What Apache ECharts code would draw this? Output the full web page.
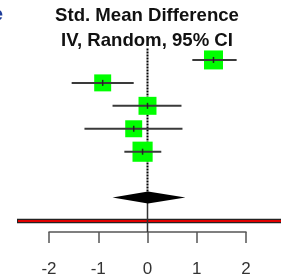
<!DOCTYPE html>
<html>
<head>
<meta charset="utf-8">
<script src="https://cdn.jsdelivr.net/npm/echarts@6.0.0/dist/echarts.min.js"></script>
<style>
html, body { margin: 0; padding: 0; background: #fff; }
#main { width: 281px; height: 280px; }
</style>
</head>
<body>
<div id="main"></div>
<script>
// study rows, top to bottom
var studyRows = [1, 2, 3, 4, 5];
var smd = [1.34, -0.91, 0.00, -0.28, -0.10];
var ciLow = [0.91, -1.54, -0.71, -1.28, -0.47];
var ciHigh = [1.81, -0.28, 0.69, 0.71, 0.28];
var weights = [21.6, 17.3, 19.4, 17.3, 24.4];
// pooled: estimate, low, high
var pooled = [0.01, -0.71, 0.77];
var pooledRow = 7;
var tickLabels = [-2, -1, 0, 1, 2];

var myChart = echarts.init(document.getElementById('main'));

var studyData = studyRows.map(function (r, i) {
    return [r, smd[i], ciLow[i], ciHigh[i], weights[i]];
});

var option = {
    animation: false,
    title: {
        text: 'Std. Mean Difference\nIV, Random, 95% CI',
        left: 147,
        top: 3,
        padding: 0,
        textAlign: 'center',
        textStyle: {
            fontFamily: 'Liberation Sans',
            fontWeight: 'bold',
            fontSize: 18.6,
            lineHeight: 25,
            color: '#111'
        }
    },
    graphic: [
        {
            type: 'text', x: -7, y: 15,
            style: {
                text: 'e', font: 'bold 18px "Liberation Sans"', fill: '#1f3d99',
                verticalAlign: 'middle'
            }
        },
        {
            type: 'line',
            shape: { x1: 17, y1: 221, x2: 281, y2: 221 },
            style: { stroke: '#222', lineWidth: 4.5 }
        },
        {
            type: 'line',
            shape: { x1: 18, y1: 221, x2: 281, y2: 221 },
            style: { stroke: '#e00000', lineWidth: 2 }
        }
    ],
    grid: { left: 49, right: 35, top: 37, height: 195 },
    xAxis: {
        type: 'value',
        position: 'bottom',
        min: tickLabels[0],
        max: tickLabels[tickLabels.length - 1],
        interval: 1,
        splitLine: { show: false },
        axisLine: { onZero: false, lineStyle: { color: '#555', width: 1.5 } },
        axisTick: { length: 11, lineStyle: { color: '#555', width: 1.5 } },
        axisLabel: {
            margin: 29,
            fontSize: 17,
            fontFamily: 'Liberation Sans',
            color: '#333'
        }
    },
    yAxis: {
        type: 'value',
        inverse: true,
        min: 0,
        max: 8.5,
        show: false
    },
    series: [
        {
            type: 'line',
            data: [[0, 0.5], [0, pooledRow]],
            symbol: 'none',
            lineStyle: { color: '#000', width: 2, type: [2, 1] },
            z: 1
        },
        {
            type: 'line',
            data: [[0, pooledRow], [0, 8.5]],
            symbol: 'none',
            lineStyle: { color: '#333', width: 1.5 },
            z: 1
        },
        {
            type: 'custom',
            data: studyData,
            encode: { x: [1, 2, 3], y: 0 },
            z: 3,
            renderItem: function (params, api) {
                var row = api.value(0);
                var c = api.coord([api.value(1), row]);
                var l = api.coord([api.value(2), row]);
                var h = api.coord([api.value(3), row]);
                var s = Math.sqrt(api.value(4)) * 4.08;
                return {
                    type: 'group',
                    children: [
                        { type: 'rect', shape: { x: c[0] - s / 2, y: c[1] - s / 2, width: s, height: s }, style: { fill: '#00ff00' } },
                        { type: 'line', shape: { x1: l[0], y1: l[1], x2: h[0], y2: h[1] }, style: { stroke: '#3a3a3a', lineWidth: 2 } },
                        { type: 'line', shape: { x1: c[0], y1: c[1] - 3, x2: c[0], y2: c[1] + 3 }, style: { stroke: '#222', lineWidth: 1.5 } }
                    ]
                };
            }
        },
        {
            type: 'custom',
            data: [[pooledRow, pooled[0], pooled[1], pooled[2]]],
            encode: { x: [1, 2, 3], y: 0 },
            z: 3,
            renderItem: function (params, api) {
                var row = api.value(0);
                var c = api.coord([api.value(1), row]);
                var l = api.coord([api.value(2), row]);
                var h = api.coord([api.value(3), row]);
                return {
                    type: 'polygon',
                    shape: { points: [l, [c[0], c[1] - 6], h, [c[0], c[1] + 6]] },
                    style: { fill: '#000' }
                };
            }
        }
    ]
};

myChart.setOption(option);
</script>
</body>
</html>
